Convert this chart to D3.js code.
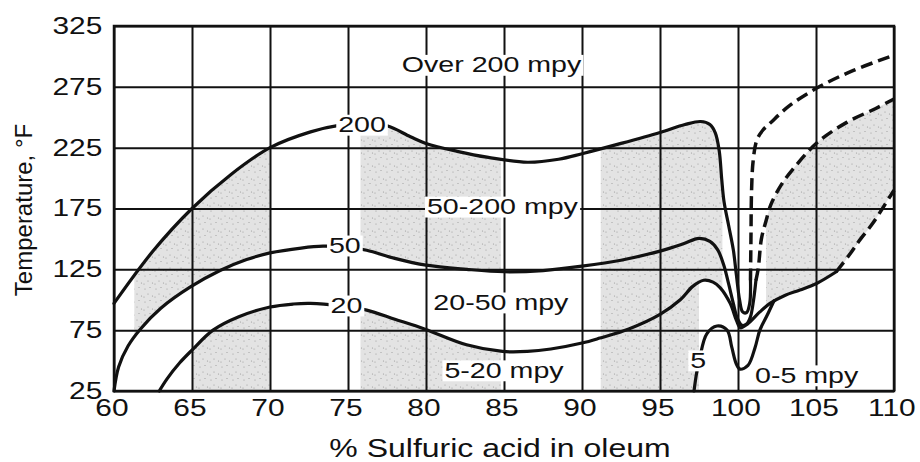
<!DOCTYPE html>
<html>
<head>
<meta charset="utf-8">
<script src="https://cdn.jsdelivr.net/npm/d3@7"></script>
<style>
    body { margin: 0; background: #fff; }
    svg { display: block; font-family: "Liberation Sans", Arial, Helvetica, sans-serif; }
</style>
</head>
<body>
<svg id="grafico" width="920" height="462"></svg>
<script>

// Tick values of both axes.
const xTicks = [60, 65, 70, 75, 80, 85, 90, 95, 100, 105, 110];
const yTicks = [25, 75, 125, 175, 225, 275, 325];

// Iso-corrosion curves, [% acid, temperature °F].
const curve200Solid = [
    [60, 97], [62.5, 140], [65, 175], [67.5, 203], [70, 225], [72.6, 238], [74.5, 243.5],
    [76, 245], [77.5, 243], [79, 234], [80, 228.5], [82, 222], [84, 217], [86.5, 213],
    [88.5, 215.5], [90, 220], [92.5, 228.5], [95, 237.5], [96.6, 244], [97.6, 246.5],
    [98.2, 244], [98.55, 237], [98.8, 222], [98.95, 200], [99.1, 181], [99.4, 161],
    [99.7, 141], [99.9, 120], [100.1, 100], [100.3, 90], [100.55, 89.5], [100.75, 97], [100.8, 116]
];
const curve200Dashed = [
    [100.8, 116], [100.83, 150], [100.87, 190], [100.97, 214], [101.2, 231], [101.6, 239.5],
    [102.05, 245], [103.3, 259.5], [105.2, 275], [107.4, 288.5], [110, 301]
];
const curve50Solid = [
    [60, 25], [60.3, 45], [60.9, 62], [61.7, 76], [63, 93], [64.9, 110.5], [66.8, 124],
    [68.5, 133], [70, 138.5], [72, 142.5], [73.4, 144], [75, 143], [76.2, 140.7],
    [78, 134], [80, 128.4], [82.6, 125], [85, 123], [87.5, 124], [90, 127.6], [92.5, 132.5],
    [95, 140], [96.5, 146], [97.5, 150.5], [98.2, 148], [98.7, 141], [99.1, 128], [99.4, 113],
    [99.7, 97], [99.95, 85], [100.25, 79], [100.55, 80], [100.8, 86], [101.0, 100], [101.15, 116]
];
const curve50Dashed = [
    [101.15, 116], [101.3, 126], [101.5, 150], [101.8, 165], [102.1, 178], [102.8, 195],
    [103.5, 207], [105.06, 229], [107, 246], [108.8, 257], [110, 265]
];
const curve20Solid = [
    [62.9, 25], [63.4, 35], [64.2, 48], [65, 58.6], [66.35, 75], [68, 86], [70, 94], [71.5, 96.5],
    [72.6, 97], [74.5, 95], [76.2, 91.5], [78, 84], [79.9, 76], [82.6, 63], [84.9, 57.5],
    [86.5, 57.5], [88, 59.5], [90, 64.4], [91.15, 68.5], [93, 76], [95, 88], [96.3, 100],
    [97.1, 111], [97.8, 116], [98.4, 114.5], [98.85, 110], [99.5, 97], [99.9, 83], [100.15, 77],
    [100.6, 80], [101.4, 90], [102.05, 97], [103, 103.5], [103.97, 108], [105.04, 113.4], [106.3, 123]
];
const curve20Dashed = [
    [106.3, 123], [107.2, 138], [107.8, 149], [108.65, 163], [109.7, 184], [110, 190]
];
const curve5 = [
    [97.18, 25], [97.35, 40], [97.56, 53], [98.0, 72], [98.65, 78.4], [99.3, 75], [99.6, 61],
    [99.9, 47], [100.13, 43], [100.64, 46], [101.1, 61], [101.4, 75], [101.86, 87], [102.3, 99]
];

// Stippled columns (ranges of % acid) inside each band.
const shade50to200 = [[61.3, 70], [75.8, 84.8], [91.2, 99]];
const shade20to50 = [[91.2, 99], [101.8, 110]];
const shade5to20 = [[65, 70], [75.8, 84.8], [91.2, 97.5]];

// Labels on the curves and in the bands, [text, % acid, temperature].
const curveLabels = [["200", 75.9, 237.6], ["50", 74.8, 138.3], ["20", 74.9, 89], ["5", 97.45, 43.9]];
const bandLabels = [
    ["Over 200 mpy", 84.2, 286.8], ["50-200 mpy", 84.9, 170.3], ["20-50 mpy", 84.8, 91.5],
    ["5-20 mpy", 85, 35.7], ["0-5 mpy", 104.4, 31.6]
];

const svg = d3.select("#grafico");
const margin = { top: 26, right: 26, bottom: 71, left: 114 };
const width = +svg.attr("width") - margin.left - margin.right;
const height = +svg.attr("height") - margin.top - margin.bottom;

// The lettering of the original is an extended grotesque: stretch it sideways.
const stretch = 1.3;

const x = d3.scaleLinear().domain([60, 110]).range([margin.left, margin.left + width]);
const y = d3.scaleLinear().domain([25, 325]).range([margin.top + height, margin.top]);

const line = d3.line()
    .x(d => x(d[0]))
    .y(d => y(d[1]))
    .curve(d3.curveCatmullRom.alpha(0.5));

// Closed regions used to clip the stipple.
const all200 = curve200Solid.concat(curve200Dashed.slice(1));
const all50 = curve50Solid.concat(curve50Dashed.slice(1));
const all20 = curve20Solid.concat(curve20Dashed.slice(1));
const lo = y(25), hi = y(325), l = x(60), r = x(110);

const regions = {
    below200: line(all200) + `L${r},${lo}L${l},${lo}Z`,
    above50: line(all50) + `L${r},${hi}L${l},${hi}Z`,
    below50: line(all50) + `L${r},${lo}L${l},${lo}Z`,
    above20: line(all20) + `L${r},${hi}L${l},${hi}L${l},${lo}Z`,
    below20: line(all20) + `L${r},${lo}Z`
};

const defs = svg.append("defs");
Object.keys(regions).forEach(k => {
    defs.append("clipPath").attr("id", k).append("path").attr("d", regions[k]);
});

// Stipple tile: light grey with a few specks.
const tile = defs.append("pattern")
    .attr("id", "stipple")
    .attr("patternUnits", "userSpaceOnUse")
    .attr("width", 11).attr("height", 13);
tile.append("rect").attr("width", 11).attr("height", 13).attr("fill", "#e3e3e3");
[[2, 3], [7, 1.5], [5, 8], [9.5, 10], [1, 11]].forEach(p => {
    tile.append("circle").attr("cx", p[0]).attr("cy", p[1]).attr("r", 0.6).attr("fill", "#9a9a9a");
});

function drawShade(cols, clipA, clipB) {
    let g = svg.append("g").attr("clip-path", `url(#${clipA})`);
    if (clipB) g = g.append("g").attr("clip-path", `url(#${clipB})`);
    g.selectAll("rect")
        .data(cols)
        .enter()
        .append("rect")
        .attr("x", d => x(d[0]))
        .attr("width", d => x(d[1]) - x(d[0]))
        .attr("y", hi)
        .attr("height", lo - hi)
        .attr("fill", "url(#stipple)");
}

drawShade(shade50to200, "below200", "above50");
drawShade(shade20to50, "below50", "above20");
drawShade(shade5to20, "below20");

// Grid lines and tick labels.
const gx = svg.append("g")
    .attr("transform", `translate(0,${margin.top + height})`)
    .call(d3.axisBottom(x).tickValues(xTicks).tickSize(-height).tickPadding(9).tickFormat(d3.format("d")));
const gy = svg.append("g")
    .attr("transform", `translate(${margin.left},0)`)
    .call(d3.axisLeft(y).tickValues(yTicks).tickSize(-width).tickPadding(9).tickFormat(d3.format("d")));

[gx, gy].forEach(g => {
    g.select(".domain").remove();
    g.selectAll(".tick line").attr("stroke", "#111").attr("stroke-width", 2);
    g.selectAll(".tick text")
        .attr("fill", "#111")
        .attr("font-size", 23)
        .attr("font-family", "Liberation Sans, Arial, sans-serif")
        .attr("transform", `scale(${stretch},1)`);
});
gx.selectAll(".tick text").attr("dx", -2);

// Frame.
svg.append("rect")
    .attr("x", margin.left).attr("y", margin.top)
    .attr("width", width).attr("height", height)
    .attr("fill", "none").attr("stroke", "#111").attr("stroke-width", 2.5);

// Curves.
const curves = svg.append("g").attr("fill", "none").attr("stroke", "#111").attr("stroke-width", 3.2);
[curve200Solid, curve50Solid, curve20Solid, curve5].forEach(c => {
    curves.append("path").attr("d", line(c)).attr("stroke-linecap", "round");
});
[curve200Dashed, curve50Dashed, curve20Dashed].forEach(c => {
    curves.append("path").attr("d", line(c)).attr("stroke-dasharray", "12,6").attr("stroke-width", 3.5);
});

// Stretched text with a white patch behind it.
function addLabel(d, size) {
    const g = svg.append("g")
        .attr("transform", `translate(${x(d[1])},${y(d[2])}) scale(${stretch},1)`);
    const t = g.append("text")
        .attr("text-anchor", "middle")
        .attr("font-size", size)
        .attr("fill", "#111")
        .text(d[0]);
    const b = t.node().getBBox();
    g.insert("rect", "text")
        .attr("x", b.x - 1.5).attr("y", -size * 0.8)
        .attr("width", b.width + 3).attr("height", size * 0.95)
        .attr("fill", "#fff");
}

curveLabels.forEach(d => addLabel(d, 22));
bandLabels.forEach(d => addLabel(d, 22));

// Axis titles.
svg.append("text")
    .attr("transform", `translate(500,457) scale(1.28,1)`)
    .attr("text-anchor", "middle")
    .attr("font-size", 25)
    .attr("fill", "#111")
    .text("% Sulfuric acid in oleum");

svg.append("text")
    .attr("transform", "translate(32,210) rotate(-90)")
    .attr("text-anchor", "middle")
    .attr("font-size", 24)
    .attr("fill", "#111")
    .text("Temperature, °F");

</script>
</body>
</html>
